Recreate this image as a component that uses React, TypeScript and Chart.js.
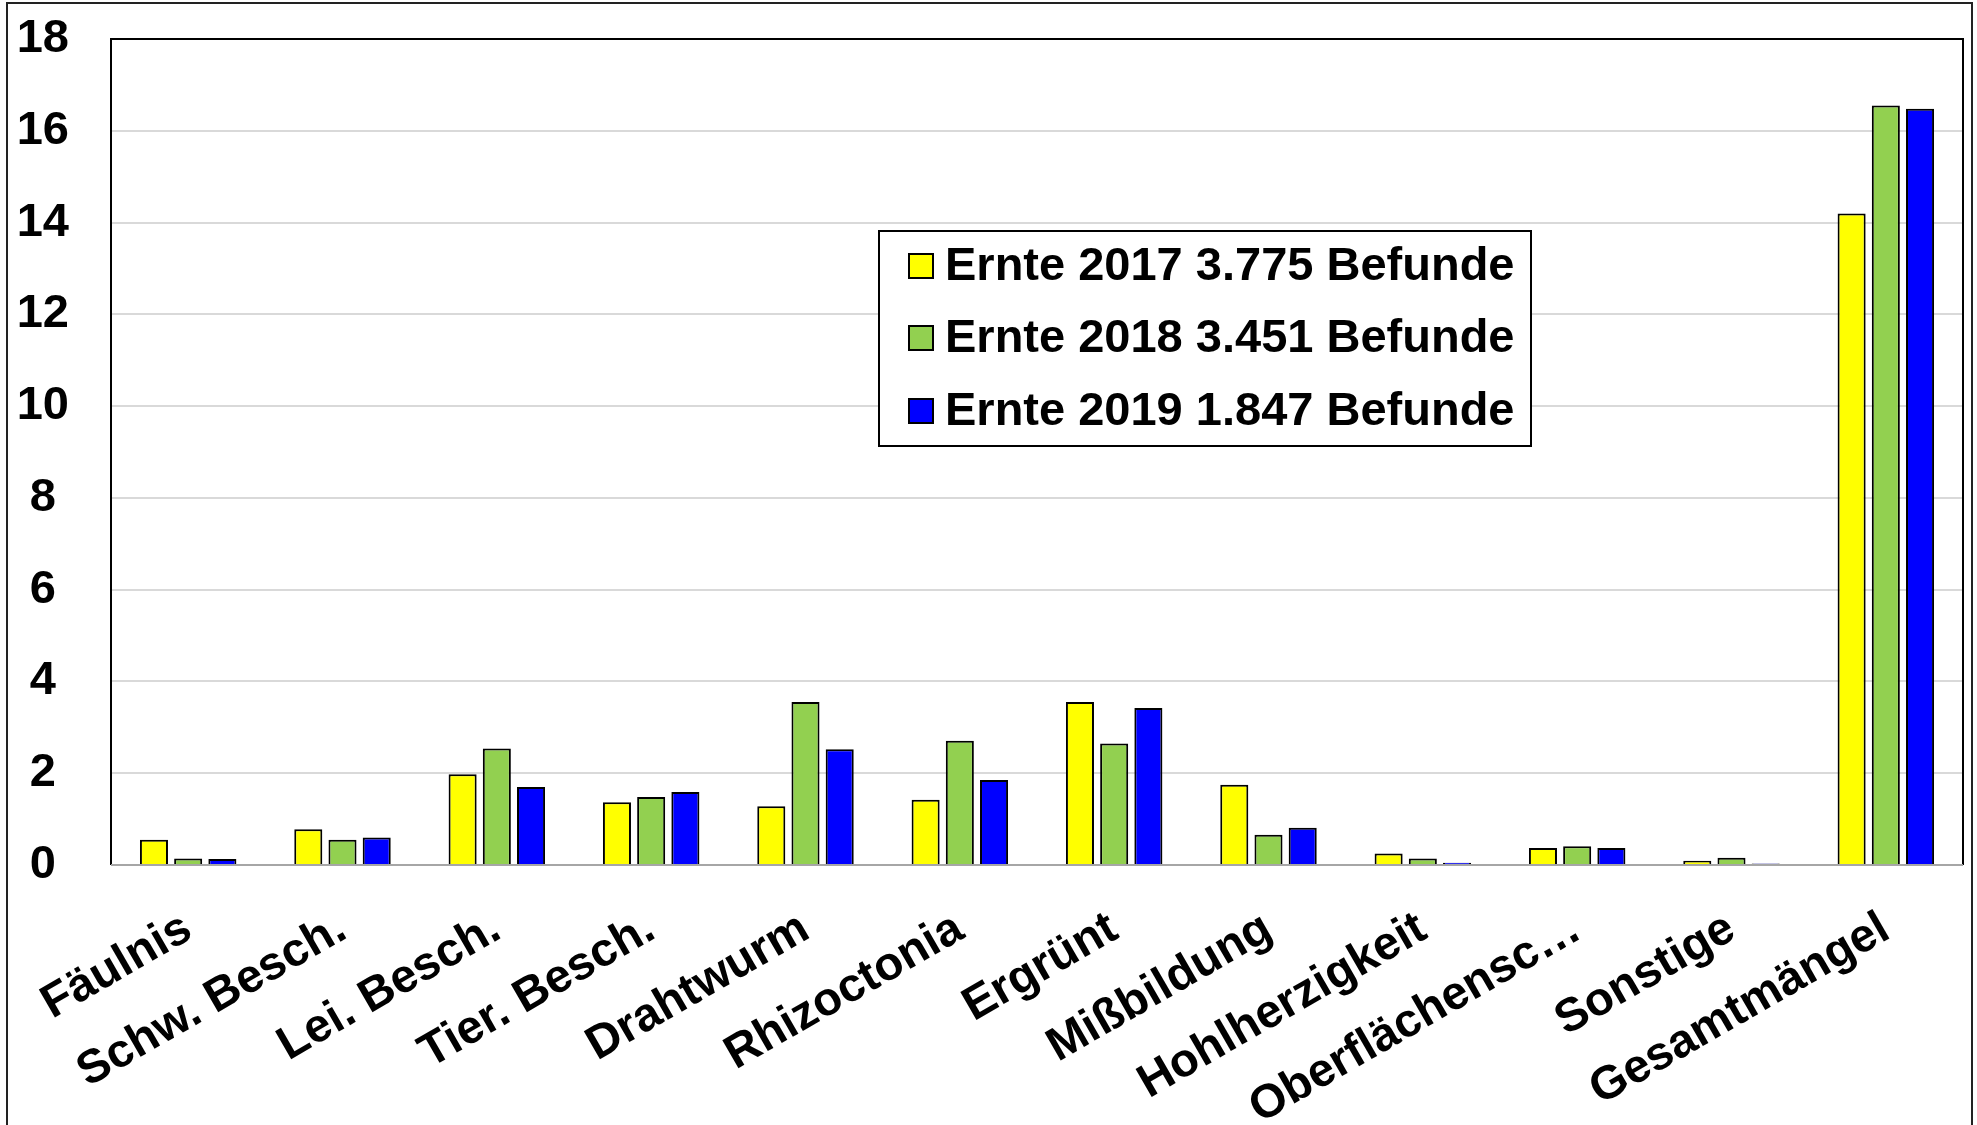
import React, { useEffect, useRef } from "react";
import { Chart, registerables } from "chart.js";

Chart.register(...registerables);

const categories = [
  "Fäulnis",
  "Schw. Besch.",
  "Lei. Besch.",
  "Tier. Besch.",
  "Drahtwurm",
  "Rhizoctonia",
  "Ergrünt",
  "Mißbildung",
  "Hohlherzigkeit",
  "Oberflächensc…",
  "Sonstige",
  "Gesamtmängel",
];

const ernte2017 = [0.55, 0.78, 1.98, 1.37, 1.28, 1.42, 3.55, 1.75, 0.25, 0.37, 0.09, 14.2];
const ernte2018 = [0.14, 0.55, 2.54, 1.48, 3.55, 2.71, 2.65, 0.66, 0.14, 0.41, 0.16, 16.55];
const ernte2019 = [0.13, 0.6, 1.7, 1.59, 2.52, 1.85, 3.42, 0.81, 0.05, 0.37, 0.03, 16.48];

const seriesLabels = [
  "Ernte 2017 3.775 Befunde",
  "Ernte 2018 3.451 Befunde",
  "Ernte 2019 1.847 Befunde",
];
const seriesColors = ["#FFFF00", "#92D050", "#0000FF"];

const yTicks = [0, 2, 4, 6, 8, 10, 12, 14, 16, 18];

const FONT = "'Liberation Sans', Arial, Helvetica, sans-serif";

const frameAndLegend = {
  id: "frameAndLegend",
  beforeDatasetsDraw(chart: any) {
    const { ctx, chartArea } = chart;
    ctx.save();
    ctx.strokeStyle = "#000";
    ctx.lineWidth = 2;
    ctx.beginPath();
    ctx.moveTo(chartArea.left, chartArea.bottom);
    ctx.lineTo(chartArea.left, chartArea.top);
    ctx.lineTo(chartArea.right, chartArea.top);
    ctx.lineTo(chartArea.right, chartArea.bottom);
    ctx.stroke();
    ctx.restore();
  },
  afterDatasetsDraw(chart: any) {
    const { ctx, chartArea } = chart;
    ctx.save();
    ctx.strokeStyle = "#a6a6a6";
    ctx.lineWidth = 2;
    ctx.beginPath();
    ctx.moveTo(chartArea.left, chartArea.bottom);
    ctx.lineTo(chartArea.right, chartArea.bottom);
    ctx.stroke();

    const bx = 879, by = 231, bw = 652, bh = 215;
    ctx.fillStyle = "#fff";
    ctx.fillRect(bx, by, bw, bh);
    ctx.strokeStyle = "#000";
    ctx.lineWidth = 2;
    ctx.strokeRect(bx, by, bw, bh);
    const rows = [266, 338, 411];
    chart.data.datasets.forEach((ds: any, i: number) => {
      const cy = rows[i];
      ctx.fillStyle = ds.backgroundColor;
      ctx.fillRect(909, cy - 12, 24, 24);
      ctx.strokeStyle = "#000";
      ctx.lineWidth = 2;
      ctx.strokeRect(909, cy - 12, 24, 24);
      ctx.fillStyle = "#000";
      ctx.font = `bold 47px ${FONT}`;
      ctx.textAlign = "left";
      ctx.textBaseline = "middle";
      ctx.fillText(ds.label, 945, cy + 1);
    });
    ctx.restore();
  },
};

function App() {
  const canvasRef = useRef<HTMLCanvasElement | null>(null);

  useEffect(() => {
    if (!canvasRef.current) return;
    const datasets = [ernte2017, ernte2018, ernte2019].map((d, i) => ({
      label: seriesLabels[i],
      data: d,
      backgroundColor: seriesColors[i],
      borderColor: "#000",
      borderWidth: 2,
      borderSkipped: "start" as const,
      categoryPercentage: 0.665,
      barPercentage: 0.82,
    }));
    const chart = new Chart(canvasRef.current, {
      type: "bar",
      data: { labels: categories, datasets },
      options: {
        animation: false,
        responsive: false,
        maintainAspectRatio: false,
        layout: { padding: { left: 0, top: 39, right: 14, bottom: 0 } },
        plugins: {
          legend: { display: false },
          tooltip: { enabled: false },
        },
        scales: {
          x: {
            grid: { display: false, drawTicks: false },
            border: { display: false },
            ticks: {
              color: "#000",
              font: { family: FONT, size: 47, weight: "bold" },
              maxRotation: 30,
              minRotation: 30,
              autoSkip: false,
              padding: 36,
            },
            afterFit(scale: any) {
              scale.height = 260;
            },
          },
          y: {
            min: 0,
            max: 18,
            afterBuildTicks(scale: any) {
              scale.ticks = yTicks.map((v) => ({ value: v }));
            },
            grid: { color: "#d9d9d9", lineWidth: 2, drawTicks: false },
            border: { display: false },
            ticks: {
              color: "#000",
              font: { family: FONT, size: 47, weight: "bold" },
              crossAlign: "center",
              padding: 42,
            },
            afterFit(scale: any) {
              scale.width = 111;
              scale.paddingTop = 0;
              scale.paddingBottom = 0;
            },
          },
        },
      },
      plugins: [frameAndLegend],
    });
    return () => chart.destroy();
  }, []);

  return (
    <div
      style={{
        position: "absolute",
        left: 0,
        top: 0,
        width: 1977,
        height: 1125,
        overflow: "hidden",
        background: "#fff",
      }}
    >
      <canvas
        ref={canvasRef}
        width={1977}
        height={1125}
        style={{ position: "absolute", left: 0, top: 0, width: 1977, height: 1125 }}
      />
      <div
        style={{
          position: "absolute",
          left: 6,
          top: 2,
          width: 1963,
          height: 1200,
          border: "2px solid #222",
          pointerEvents: "none",
        }}
      />
    </div>
  );
}

export default App;
